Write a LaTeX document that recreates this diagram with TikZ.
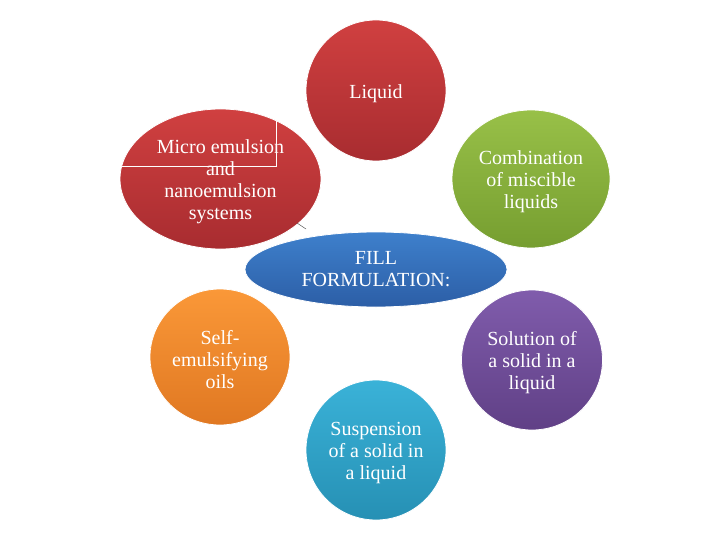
\documentclass[tikz,border=0pt]{standalone}
\usepackage{fontspec}
\setmainfont{Liberation Serif}
\usetikzlibrary{shapes.geometric}

\definecolor{redtop}{RGB}{208,64,64}
\definecolor{redbot}{RGB}{168,44,48}
\definecolor{greentop}{RGB}{152,192,72}
\definecolor{greenbot}{RGB}{118,158,48}
\definecolor{bluetop}{RGB}{62,128,204}
\definecolor{bluebot}{RGB}{44,94,166}
\definecolor{orangetop}{RGB}{250,152,56}
\definecolor{orangebot}{RGB}{224,120,34}
\definecolor{purpletop}{RGB}{128,92,172}
\definecolor{purplebot}{RGB}{96,64,134}
\definecolor{cyantop}{RGB}{58,178,216}
\definecolor{cyanbot}{RGB}{38,144,180}

\newcommand{\topgap}{\rule{0pt}{20pt}}

\begin{document}
\begin{tikzpicture}[
  x=1pt, y=-1pt,
  font=\fontsize{20}{22}\selectfont,
  bubble/.style={ellipse, inner sep=0pt, align=center, text=white,
                 draw=white, line width=.8pt},
  redb/.style={bubble, top color=redtop, bottom color=redbot},
  greenb/.style={bubble, top color=greentop, bottom color=greenbot},
  blueb/.style={bubble, top color=bluetop, bottom color=bluebot},
  orangeb/.style={bubble, top color=orangetop, bottom color=orangebot},
  purpleb/.style={bubble, top color=purpletop, bottom color=purplebot},
  cyanb/.style={bubble, top color=cyantop, bottom color=cyanbot}
]
  \useasboundingbox (0,0) rectangle (720,540);

  \node[redb, minimum width=140pt, minimum height=141pt] (liquid) at (376,90.5) {\topgap Liquid};
  \node[redb, minimum width=201pt, minimum height=140pt] (micro) at (220.5,179) {\topgap Micro emulsion\\and\\nanoemulsion\\systems};
  \node[greenb, minimum width=158pt, minimum height=138pt] (combo) at (531,179) {\topgap Combination\\of miscible\\liquids};
  \node[orangeb, minimum width=140pt, minimum height=136pt] (selfemul) at (220,357) {\topgap Self-\\emulsifying\\oils};
  \node[purpleb, minimum width=141pt, minimum height=140pt] (solution) at (532,360) {\topgap Solution of\\a solid in a\\liquid};
  \node[cyanb, minimum width=140pt, minimum height=140pt] (suspension) at (376,450) {\topgap Suspension\\of a solid in\\a liquid};
  \node[blueb, minimum width=262pt, minimum height=75pt] (fill) at (376,269.5) {FILL\\FORMULATION:};

  % leftover text box marks
  \draw[white, line width=.6pt] (122,166) -- (276,166) -- (276,121);
  \draw[gray!70!black, line width=.5pt] (297,223) -- (306,229);
\end{tikzpicture}
\end{document}
